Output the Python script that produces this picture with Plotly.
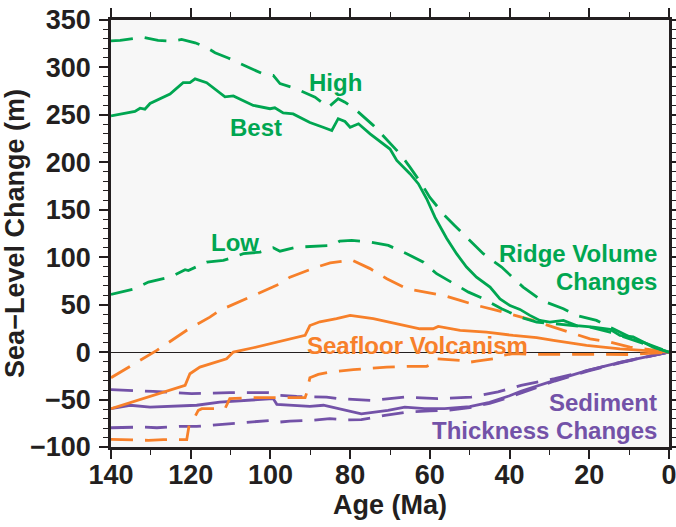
import plotly.graph_objects as go

# ---------------- data (age in Ma, sea-level change in m) ----------------
ridge_best_age = [140, 134, 132.7, 131.5, 130.2, 125.2, 121.9, 120.2, 118.9, 116, 111.4, 109.3, 104.3,
                  100.1, 98.9, 96.8, 94.3, 90.1, 86.8, 84.6, 83, 81.3, 80, 77.9, 75, 72.1, 70, 68.3, 65,
                  62.9, 60.8, 58.7, 55.8, 53.3, 50.8, 48.3, 44.9, 42.4, 39.9, 37.4, 34.9, 32.4, 29.9,
                  26.5, 23.2, 19, 14.8, 12.3, 9, 4, 0]
ridge_best_val = [249, 253.6, 257, 256, 262, 272, 284, 284, 288, 284, 269, 270, 260,
                  256.5, 257.5, 252, 251, 242, 237, 233.6, 246, 243, 237, 240.6, 230, 221, 214, 202, 188,
                  177.5, 161.6, 142, 120, 103.7, 89.6, 79, 68.5, 56, 49, 45, 38.7, 33.4, 31.6,
                  33.4, 28, 26.3, 24, 17.6, 16, 5.3, 0]

ridge_high_age = [140, 137.7, 133.6, 132.3, 128.2, 124.8, 122.3, 118.9, 116, 113.9, 110.6, 105.6, 101.8,
                  99.3, 97.6, 93.8, 88.8, 85.5, 83, 81.3, 78.4, 74.2, 71.3, 67.5, 65, 62.1, 60, 56.3,
                  53.8, 50.4, 46.6, 42, 36.6, 32, 26.5, 23.2, 18.2, 14, 9.8, 0]
ridge_high_val = [328, 328.5, 331, 332, 328.5, 327.7, 329.5, 326, 321, 315.5, 310, 300, 293,
                  291.6, 283, 278, 268.7, 258, 267, 263.4, 254.7, 239, 226.5, 209, 195, 177.5, 163, 144,
                  133.5, 119.5, 103.7, 89.6, 68.5, 54.5, 45.7, 38.7, 33.4, 24.6, 15.8, 0]

ridge_low_age = [140, 134, 130.6, 125.2, 121.4, 120.6, 116, 111.8, 106.8, 102.6, 99.3, 97.6, 93.4, 88,
                 84.3, 82.6, 79.6, 75, 70.4, 65.8, 61.6, 58.3, 54.1, 50.3, 46.6, 42, 37.4, 33.2, 29,
                 24.8, 19.8, 14.8, 9.8, 0]
ridge_low_val = [60.8, 66.8, 73.8, 79, 86.8, 86, 94.8, 96.6, 103.7, 105.4, 110, 106.4, 110.6, 111.4,
                 112.4, 117, 117.7, 116, 112.4, 103.7, 94.8, 82.6, 72, 63.2, 56.3, 45.7, 36.9, 31.6, 30,
                 28, 26.3, 21, 14, 0]

volc_high_age = [140, 131, 128.5, 121, 115.2, 112.7, 105, 97.6, 95.1, 88.4, 85, 79.6, 75, 70.8, 65.8,
                 61.6, 56.6, 52.4, 48.2, 43.2, 37.4, 34.1, 29, 24.8, 19.8, 14.8, 9.8, 0]
volc_high_val = [-27, -5, 1.8, 23, 36.9, 44, 58, 72, 79, 89.6, 94, 97, 88, 77.3, 66.8,
                 63.2, 59.7, 54.5, 49.2, 44, 36.9, 33.4, 26.3, 21, 14, 10.5, 5.3, 0]

volc_best_age = [140, 131.9, 121.4, 120.2, 117.7, 111, 109.3, 104.3, 96.8, 91.3, 90.1, 87.6, 83.4, 80,
                 74.2, 68.3, 62.5, 59.2, 57.9, 52.4, 45.8, 39.1, 33.2, 29, 20.7, 12.3, 0]
volc_best_val = [-59.6, -49, -35, -22.8, -15.8, -7, 0, 4.6, 12.3, 17.6, 28, 32, 35.2, 38.7,
                 35.2, 30, 24.6, 24.6, 27, 22.9, 21, 17.6, 15.2, 12.3, 7, 3.5, 0]

volc_low_age = [140, 136.5, 130.6, 126.9, 121, 120.4, 119, 118.1, 117.2, 111.4, 110.2, 105.2, 95.1,
                91.3, 90.9, 90.1, 88, 85.1, 79.2, 70.8, 65.4, 60.8, 58.7, 58.3, 52.4, 50.8, 48.3,
                44.1, 42, 39.1, 34.1, 20, 10, 0]
volc_low_val = [-92, -92.3, -93, -92.3, -92.3, -77, -68.5, -61.4, -59.6, -59.6, -49, -48, -48,
                -48, -43, -27, -23.5, -21, -18.5, -15.8, -15, -15, -10.5, -7, -8.7, -11.2, -9.5,
                -7, -3.5, -1.7, -2.4, -2.5, -2.5, 0]

sed_best_age = [140, 135.2, 130.2, 123.5, 118.5, 112.7, 106.8, 102.6, 99.3, 98.4, 94.3, 90.1, 86.7,
                83.1, 77.2, 70.5, 66.3, 61.3, 56.3, 50, 45, 40, 37, 28.7, 20.4, 12, 0]
sed_best_val = [-59.6, -56, -58, -57.2, -56, -52.7, -51, -49.8, -49, -55, -56, -57.2, -56,
                -59.6, -65, -61.4, -58, -59.6, -59.6, -57.5, -53, -46, -41, -29.8, -19.3, -10.5, 0]

sed_high_age = [140, 133.6, 129.4, 123.5, 119.8, 114.3, 110.2, 100.5, 98.4, 97.6, 93.4, 85.9, 83.1,
                74.7, 66.3, 58, 49.6, 42.9, 37.1, 28.7, 20.4, 12, 0]
sed_high_val = [-39.6, -40.4, -41.4, -42.8, -43.8, -43.2, -42.8, -42.8, -43.8, -45.6, -46.7, -47.4, -49,
                -51, -47.4, -49, -47.4, -42, -35, -28, -19.3, -10.5, 0]

sed_low_age = [140, 132.3, 128.5, 122.7, 118.5, 113.5, 109.3, 104.3, 100.1, 98.4, 95.1, 90.1, 85.1,
               80.5, 77.2, 71.3, 65.5, 60, 55, 50, 45, 40, 35, 28.7, 20.4, 12, 0]
sed_low_val = [-79.7, -79, -79.7, -78.3, -78.3, -76.5, -75.5, -73, -72, -74, -72.7, -72, -70.2,
               -71.5, -71.2, -66.7, -63, -62, -61, -58.5, -54, -47.5, -40, -30.5, -20, -11, 0]

x_ticks = [140, 120, 100, 80, 60, 40, 20, 0]
y_ticks = [-100, -50, 0, 50, 100, 150, 200, 250, 300, 350]

GREEN = "#00a651"
ORANGE = "#f7802a"
PURPLE = "#7352a8"
DASH = "22px,12px"
LW = 2.8

fig = go.Figure()

def add(x, y, color, dash):
    fig.add_trace(go.Scatter(x=x, y=y, mode="lines",
                             line=dict(color=color, width=LW, dash=dash),
                             hoverinfo="skip", showlegend=False))

add(sed_low_age, sed_low_val, PURPLE, DASH)
add(sed_high_age, sed_high_val, PURPLE, DASH)
add(sed_best_age, sed_best_val, PURPLE, "solid")
add(volc_low_age, volc_low_val, ORANGE, DASH)
add(volc_high_age, volc_high_val, ORANGE, DASH)
add(volc_best_age, volc_best_val, ORANGE, "solid")
add(ridge_low_age, ridge_low_val, GREEN, DASH)
add(ridge_high_age, ridge_high_val, GREEN, DASH)
add(ridge_best_age, ridge_best_val, GREEN, "solid")

FAM = "Liberation Sans, Arial, Helvetica, sans-serif"

def label(text, x, y, color, xanchor="center"):
    fig.add_annotation(x=x, y=y, xref="x", yref="y", text=text,
                       showarrow=False, xanchor=xanchor, yanchor="middle",
                       font=dict(color=color, family=FAM, size=24, weight="bold"))

label("High", 83.6, 284, GREEN)
label("Best", 103.6, 237, GREEN)
label("Low", 108.9, 116, GREEN)
label("Ridge Volume", 2.6, 104, GREEN, "right")
label("Changes", 2.6, 74.5, GREEN, "right")
label("Seafloor Volcanism", 63.2, 7, ORANGE)
label("Sediment", 2.4, -53, PURPLE, "right")
label("Thickness Changes", 2.4, -83, PURPLE, "right")

AX = dict(family=FAM, size=27, color="#231f20", weight="bold")

fig.update_layout(
    width=676, height=527,
    margin=dict(l=111, r=7, t=20, b=80),
    paper_bgcolor="white",
    plot_bgcolor="#f7f7f7",
    showlegend=False,
    xaxis=dict(range=[140, 0], tickvals=x_ticks, ticktext=[str(v) for v in x_ticks],
               automargin=False, ticklabeloverflow="allow", ticklabelstandoff=-7,
               ticks="outside", ticklen=9, tickwidth=1.5, tickcolor="#231f20",
               minor=dict(dtick=10, tick0=0, ticks="outside", ticklen=5, tickwidth=1.2, tickcolor="#231f20"),
               showline=True, linecolor="#231f20", linewidth=2.5, mirror="allticks",
               showgrid=False, zeroline=False,
               tickfont=AX,
               title=dict(text="Age (Ma)", font=AX, standoff=2)),
    yaxis=dict(range=[-100, 350], tickvals=y_ticks,
               automargin=False, ticklabeloverflow="allow", ticklabelstandoff=3,
               ticks="outside", ticklen=9, tickwidth=1.5, tickcolor="#231f20",
               minor=dict(dtick=10, tick0=0, ticks="outside", ticklen=5, tickwidth=1.2, tickcolor="#231f20"),
               showline=True, linecolor="#231f20", linewidth=2.5, mirror="allticks",
               showgrid=False, zeroline=True, zerolinecolor="#231f20", zerolinewidth=1.2,
               tickfont=AX,
               title=dict(text="Sea\u2212Level Change (m)", font=AX, standoff=0)),
)

fig.write_html("out.html")
